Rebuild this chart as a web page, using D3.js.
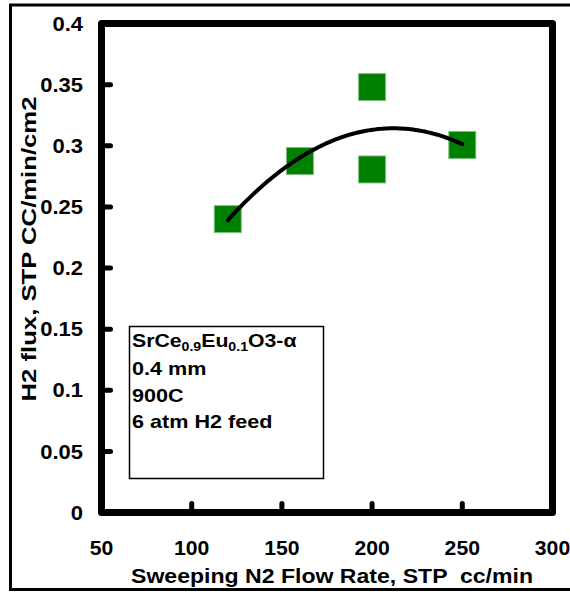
<!DOCTYPE html>
<html>
<head>
<meta charset="utf-8">
<script src="https://cdn.jsdelivr.net/npm/d3@7"></script>
<style>
  html, body { margin: 0; padding: 0; background: #fff; }
  svg text { font-family: "Liberation Sans", Arial, sans-serif; font-weight: bold; fill: #000; white-space: pre; }
</style>
</head>
<body>
<svg id="chart" width="570" height="594"></svg>
<script>
// Measured H2 flux against sweep gas flow rate
const flowRate = [120, 160, 200, 200, 250];               // STP cc/min
const h2Flux   = [0.240, 0.2875, 0.348, 0.2806, 0.3006];  // STP cc/min/cm2

const xTicks = [50, 100, 150, 200, 250, 300];
const yTicks = [0, 0.05, 0.1, 0.15, 0.2, 0.25, 0.3, 0.35, 0.4];

const noteLines = ["0.4 mm", "900C", "6 atm H2 feed"];

(function () {
  const svg = d3.select("#chart");

  // plot frame
  const pL = 101.5, pR = 552.5, pT = 23.5, pB = 512.5;

  const x = d3.scaleLinear().domain([50, 300]).range([pL, pR]);
  const y = d3.scaleLinear().domain([0, 0.4]).range([pB, pT]);

  // outer border of the figure
  svg.append("rect")
    .attr("x", 10.5).attr("y", 5)
    .attr("width", 600).attr("height", 584.5)
    .attr("fill", "none").attr("stroke", "#000").attr("stroke-width", 3);

  // inside tick marks
  const tickLen = 9;
  svg.append("g").selectAll("line")
    .data(yTicks.slice(1, -1)).join("line")
    .attr("x1", pL).attr("x2", pL + tickLen)
    .attr("y1", d => y(d)).attr("y2", d => y(d))
    .attr("stroke", "#000").attr("stroke-width", 5).attr("stroke-linecap", "round");
  svg.append("g").selectAll("line")
    .data(xTicks.slice(1, -1)).join("line")
    .attr("x1", d => x(d)).attr("x2", d => x(d))
    .attr("y1", pB).attr("y2", pB - tickLen)
    .attr("stroke", "#000").attr("stroke-width", 5).attr("stroke-linecap", "round");

  // frame around the plot area
  svg.append("rect")
    .attr("x", pL).attr("y", pT)
    .attr("width", pR - pL).attr("height", pB - pT)
    .attr("fill", "none").attr("stroke", "#000").attr("stroke-width", 7)
    .attr("stroke-linejoin", "round");

  // tick labels (slightly wide glyphs)
  svg.append("g").selectAll("text")
    .data(yTicks).join("text")
    .attr("transform", d => `translate(83,${y(d)}) scale(1.1,1)`)
    .attr("text-anchor", "end").attr("dominant-baseline", "central")
    .attr("font-size", 20)
    .text(d => String(d));
  svg.append("g").selectAll("text")
    .data(xTicks).join("text")
    .attr("transform", d => `translate(${x(d)},548) scale(1.06,1)`)
    .attr("text-anchor", "middle").attr("dominant-baseline", "central")
    .attr("font-size", 20)
    .text(d => d);

  // axis titles
  svg.append("text")
    .attr("x", 332).attr("y", 576)
    .attr("text-anchor", "middle").attr("dominant-baseline", "central")
    .attr("font-size", 20)
    .attr("textLength", 402).attr("lengthAdjust", "spacingAndGlyphs")
    .text("Sweeping N2 Flow Rate, STP  cc/min");
  svg.append("text")
    .attr("transform", "translate(29,249) rotate(-90)")
    .attr("text-anchor", "middle").attr("dominant-baseline", "central")
    .attr("font-size", 20)
    .attr("textLength", 305).attr("lengthAdjust", "spacingAndGlyphs")
    .text("H2 flux, STP CC/min/cm2");

  // data markers
  const sq = 27;
  svg.append("g").selectAll("rect")
    .data(flowRate.map((f, i) => [f, h2Flux[i]])).join("rect")
    .attr("x", d => x(d[0]) - sq / 2).attr("y", d => y(d[1]) - sq / 2)
    .attr("width", sq).attr("height", sq)
    .attr("fill", "#008000").attr("stroke", "#7fbf7f").attr("stroke-width", 1);

  // second-order polynomial trendline (least squares)
  function quadFit(xs, ys) {
    const s = [0, 0, 0, 0, 0], t = [0, 0, 0];
    for (let i = 0; i < xs.length; i++) {
      for (let k = 0; k < 5; k++) s[k] += Math.pow(xs[i], k);
      for (let k = 0; k < 3; k++) t[k] += ys[i] * Math.pow(xs[i], k);
    }
    const M = [[s[0], s[1], s[2], t[0]], [s[1], s[2], s[3], t[1]], [s[2], s[3], s[4], t[2]]];
    for (let c = 0; c < 3; c++) {
      let p = c;
      for (let r = c + 1; r < 3; r++) if (Math.abs(M[r][c]) > Math.abs(M[p][c])) p = r;
      [M[c], M[p]] = [M[p], M[c]];
      for (let r = 0; r < 3; r++) {
        if (r === c) continue;
        const f = M[r][c] / M[c][c];
        for (let k = c; k < 4; k++) M[r][k] -= f * M[c][k];
      }
    }
    return [M[0][3] / M[0][0], M[1][3] / M[1][1], M[2][3] / M[2][2]];
  }
  const [c0, c1, c2] = quadFit(flowRate, h2Flux);
  const xMin = d3.min(flowRate), xMax = d3.max(flowRate);
  const curve = d3.range(0, 101).map(i => {
    const f = xMin + (xMax - xMin) * i / 100;
    return [f, c0 + c1 * f + c2 * f * f];
  });
  svg.append("path")
    .datum(curve)
    .attr("d", d3.line().x(d => x(d[0])).y(d => y(d[1])))
    .attr("fill", "none").attr("stroke", "#000").attr("stroke-width", 4)
    .attr("stroke-linecap", "round");

  // annotation box
  const box = svg.append("g");
  box.append("rect")
    .attr("x", 129.5).attr("y", 326.5).attr("width", 194).attr("height", 152)
    .attr("fill", "#fff").attr("stroke", "#000").attr("stroke-width", 1.5);
  const title = box.append("text")
    .attr("transform", "translate(132,347) scale(1.18,1)")
    .attr("font-size", 18);
  title.append("tspan").text("SrCe");
  title.append("tspan").attr("font-size", 12).attr("dy", 4).text("0.9");
  title.append("tspan").attr("dy", -4).text("Eu");
  title.append("tspan").attr("font-size", 12).attr("dy", 4).text("0.1");
  title.append("tspan").attr("dy", -4).text("O3-α");
  box.selectAll("text.note")
    .data(noteLines).join("text").attr("class", "note")
    .attr("transform", (d, i) => `translate(132,${375 + i * 26.5}) scale(1.2,1)`)
    .attr("font-size", 18)
    .text(d => d);
})();
</script>
</body>
</html>
